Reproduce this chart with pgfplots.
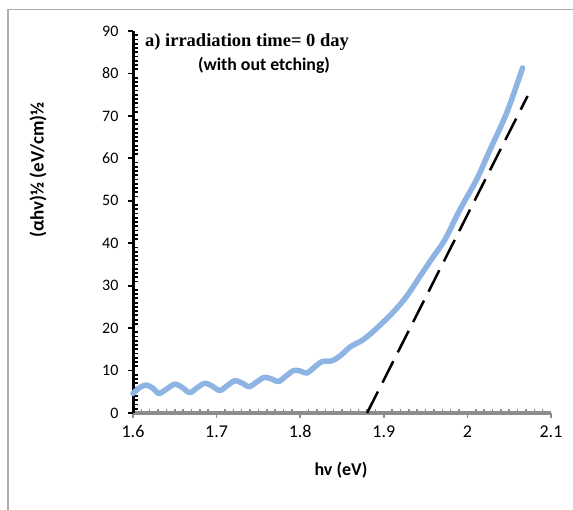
\documentclass[border=0pt]{standalone}
\usepackage{fontspec}
\setmainfont{Carlito}
\newfontfamily\timesfont{Liberation Serif}
\usepackage{pgfplots}
\pgfplotsset{compat=1.18}
\definecolor{axgray}{RGB}{140,140,140}
\definecolor{curveblue}{RGB}{141,180,226}
\begin{document}
\begin{tikzpicture}[x=1pt,y=1pt]
\useasboundingbox (0,0) rectangle (573,-510);
\draw[axgray!70, line width=1.5pt] (8,-510) -- (8,-9.5) -- (573,-9.5);
\begin{axis}[
  at={(133pt,-413pt)}, anchor=south west,
  width=418pt, height=382pt, scale only axis,
  xmin=1.6, xmax=2.1, ymin=0, ymax=90,
  axis x line*=bottom, axis y line*=left,
  axis line style={-},
  x axis line style={axgray, line width=4pt},
  y axis line style={black, line width=3pt},
  xtick={1.6,1.7,1.8,1.9,2.0,2.1},
  xticklabels={1.6,1.7,1.8,1.9,2,2.1},
  ytick={0,10,20,30,40,50,60,70,80,90},
  yticklabels={0,10,20,30,40,50,60,70,80,90},
  minor x tick num=9, minor y tick num=9,
  tick align=outside,
  major tick length=5pt, minor tick length=3pt,
  xtick style={axgray, line width=1.5pt},
  ytick style={black, line width=1.8pt},
  minor x tick style={yshift=4pt},
  minor y tick style={xshift=4.5pt},
  xticklabel style={font=\fontsize{18}{20}\selectfont, yshift=-4pt},
  yticklabel style={font=\fontsize{16}{18}\selectfont, xshift=-6pt},
  clip=false,
]
\addplot[curveblue, line width=5.5pt, smooth, tension=0.5, line cap=round, line join=round] coordinates {
(1.600,4.6)(1.608,6.0)(1.616,6.6)(1.624,5.8)(1.631,4.6)(1.640,5.6)(1.650,6.8)(1.659,6.0)(1.668,4.8)(1.677,6.0)(1.686,7.0)(1.695,6.3)(1.704,5.3)(1.713,6.5)(1.722,7.6)(1.731,7.0)(1.739,6.2)(1.748,7.3)(1.757,8.4)(1.766,8.0)(1.774,7.4)(1.783,8.7)(1.792,10.0)(1.800,9.9)(1.808,9.4)(1.817,10.8)(1.826,12.1)(1.838,12.3)(1.848,13.5)(1.860,15.6)(1.874,17.1)(1.885,18.8)(1.896,20.8)(1.911,23.7)(1.927,27.4)(1.943,32.1)(1.958,36.5)(1.973,40.8)(1.991,47.9)(2.011,55.0)(2.027,62.0)(2.047,70.7)(2.066,81.3)
};
\addplot[black, line width=2.5pt, dash pattern=on 24pt off 10pt] coordinates {(1.88,0)(2.072,74.7)};
\end{axis}
\node[font=\timesfont\bfseries\fontsize{18.5}{20}\selectfont] at (247,-42) {a) irradiation time= 0 day};
\node[font=\bfseries\fontsize{17.8}{20}\selectfont] at (264,-65) {(with out etching)};
\node[font=\bfseries\fontsize{19}{20}\selectfont, rotate=90] at (38,-170) {(αhv)½ (eV/cm)½};
\node[font=\bfseries\fontsize{18}{20}\selectfont] at (341,-470) {hv (eV)};
\end{tikzpicture}
\end{document}
